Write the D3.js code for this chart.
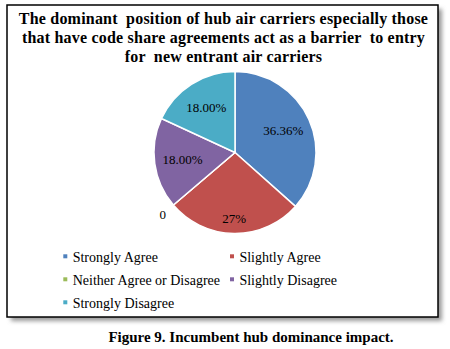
<!DOCTYPE html>
<html>
<head>
<meta charset="utf-8">
<script src="https://cdn.jsdelivr.net/npm/d3@7"></script>
</head>
<body style="margin:0">
<svg id="chart" width="450" height="349"></svg>
<script>
// Survey responses
const categories = ["Strongly Agree", "Slightly Agree", "Neither Agree or Disagree", "Slightly Disagree", "Strongly Disagree"];
const values = [36.36, 27, 0, 18, 18];
const valueLabels = ["36.36%", "27%", "0", "18.00%", "18.00%"];
const colors = ["#4F81BD", "#C0504D", "#9BBB59", "#8064A2", "#4BACC6"];
const titleLines = [
  "The dominant  position of hub air carriers especially those",
  "that have code share agreements act as a barrier  to entry",
  "for  new entrant air carriers"
];
const caption = "Figure 9. Incumbent hub dominance impact.";

const serifFace = '"Liberation Serif"';
const svg = d3.select("#chart");

// Drop shadow behind the chart frame
const defs = svg.append("defs");
defs.append("filter").attr("id", "shadow").attr("x", "-10%").attr("y", "-10%").attr("width", "120%").attr("height", "120%")
  .append("feGaussianBlur").attr("stdDeviation", 2);

const frame = { x: 7, y: 5, w: 431, h: 312 };
svg.append("rect")
  .attr("x", frame.x + 4).attr("y", frame.y + 4)
  .attr("width", frame.w).attr("height", frame.h)
  .attr("fill", "#9a9a9a").attr("filter", "url(#shadow)");
svg.append("rect")
  .attr("x", frame.x).attr("y", frame.y)
  .attr("width", frame.w).attr("height", frame.h)
  .attr("fill", "#fff").attr("stroke", "#000").attr("stroke-width", 1.5);

// Title
svg.append("g").selectAll("text").data(titleLines).join("text")
  .attr("x", 223.5).attr("y", (d, i) => 24 + i * 19)
  .attr("text-anchor", "middle")
  .attr("font-size", 16).attr("font-weight", "bold")
  .attr("letter-spacing", 0.2)
  .style("font-family", serifFace, "important")
  .attr("xml:space", "preserve")
  .attr("fill", "#000")
  .text(d => d);

// Pie
const cx = 235, cy = 152.5, R = 81;
const pie = d3.pie().sort(null).value(d => d).startAngle(0).endAngle(2 * Math.PI);
const arcs = pie(values);
const arc = d3.arc().innerRadius(0).outerRadius(R);
const g = svg.append("g").attr("transform", `translate(${cx},${cy})`);

g.selectAll("path").data(arcs).join("path")
  .attr("d", arc)
  .attr("fill", (d, i) => colors[i])
  .attr("stroke", "#fff").attr("stroke-width", 1.5)
  .attr("stroke-linejoin", "round");

// Data labels: inside the slices, zero-valued slices just outside the rim
const labelRadius = (d, i) => {
  if (d.data === 0) return R * 1.17;
  if (i === 1) return R * 0.82;
  return R * 0.655;
};
g.selectAll("text.val").data(arcs).join("text")
  .attr("class", "val")
  .attr("transform", (d, i) => {
    const r = labelRadius(d, i);
    const c = d3.arc().innerRadius(r).outerRadius(r).centroid(d);
    return `translate(${c[0]},${c[1]})`;
  })
  .attr("text-anchor", "middle")
  .attr("dy", "0.35em")
  .attr("font-size", 13)
  .style("font-family", serifFace, "important")
  .attr("fill", "#000")
  .text((d, i) => valueLabels[i]);

// Legend: two columns, three rows
const legendCols = [63.3, 230];
const legendRows = [261.5, 284.5, 307.5];
const leg = svg.append("g").selectAll("g").data(categories).join("g")
  .attr("transform", (d, i) => `translate(${legendCols[i % 2]},${legendRows[Math.floor(i / 2)]})`);
leg.append("rect")
  .attr("x", 0).attr("y", -7.2).attr("width", 4).attr("height", 4)
  .attr("fill", (d, i) => colors[i]);
leg.append("text")
  .attr("x", 9.4).attr("y", 0)
  .attr("font-size", 14)
  .style("font-family", serifFace, "important")
  .attr("fill", "#000")
  .text(d => d);

// Figure caption
svg.append("text")
  .attr("x", 251).attr("y", 342)
  .attr("text-anchor", "middle")
  .attr("font-size", 15).attr("font-weight", "bold")
  .style("font-family", serifFace, "important")
  .attr("fill", "#000")
  .text(caption);
</script>
</body>
</html>
